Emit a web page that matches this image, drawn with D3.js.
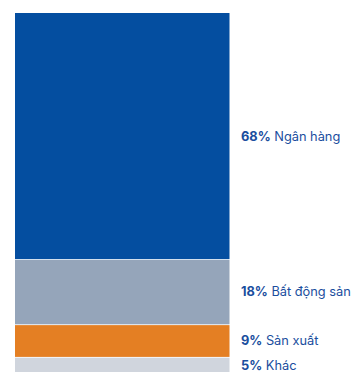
<!DOCTYPE html>
<html>
<head>
<meta charset="utf-8">
<script src="https://cdn.jsdelivr.net/npm/d3@7"></script>
<style>
  html, body { margin: 0; padding: 0; background: #fff; }
  svg { display: block; }
</style>
</head>
<body>
<svg id="chart" width="352" height="372"></svg>
<script>
// Loan portfolio breakdown by sector (percent of total)
const categories = ["Ngân hàng", "Bất động sản", "Sản xuất", "Khác"];
const shares = [68, 18, 9, 5];
const colors = ["#044ea0", "#95a5ba", "#e47f23", "#d0d5dd"];

const svg = d3.select("#chart");
const barLeft = 15, barRight = 229.5, barTop = 13, barBottom = 375;

// Stack the shares top-down
let acc = 0;
const segments = shares.map((v, i) => {
  const s = { name: categories[i], value: v, y0: acc, y1: acc + v, color: colors[i] };
  acc += v;
  return s;
});

const y = d3.scaleLinear().domain([0, d3.sum(shares)]).range([barTop, barBottom]);

svg.selectAll("rect.seg")
  .data(segments)
  .join("rect")
  .attr("class", "seg")
  .attr("x", barLeft)
  .attr("width", barRight - barLeft)
  .attr("y", d => y(d.y0) + (d.y0 > 0 ? 0.8 : 0))
  .attr("height", d => y(d.y1) - y(d.y0) - (d.y0 > 0 ? 0.8 : 0))
  .attr("fill", d => d.color);

const labels = svg.selectAll("text.lbl")
  .data(segments)
  .join("text")
  .attr("class", "lbl")
  .attr("x", 241)
  .attr("y", d => (y(d.y0) + y(d.y1)) / 2)
  .attr("dy", "0.35em")
  .attr("font-family", "Inter, 'Noto Sans', sans-serif")
  .attr("font-size", 12.8)
  .attr("fill", "#1a4e9e");

labels.append("tspan")
  .attr("font-weight", 700)
  .text(d => d.value + "%");
labels.append("tspan")
  .attr("font-weight", 400)
  .text(d => " " + d.name);
</script>
</body>
</html>
